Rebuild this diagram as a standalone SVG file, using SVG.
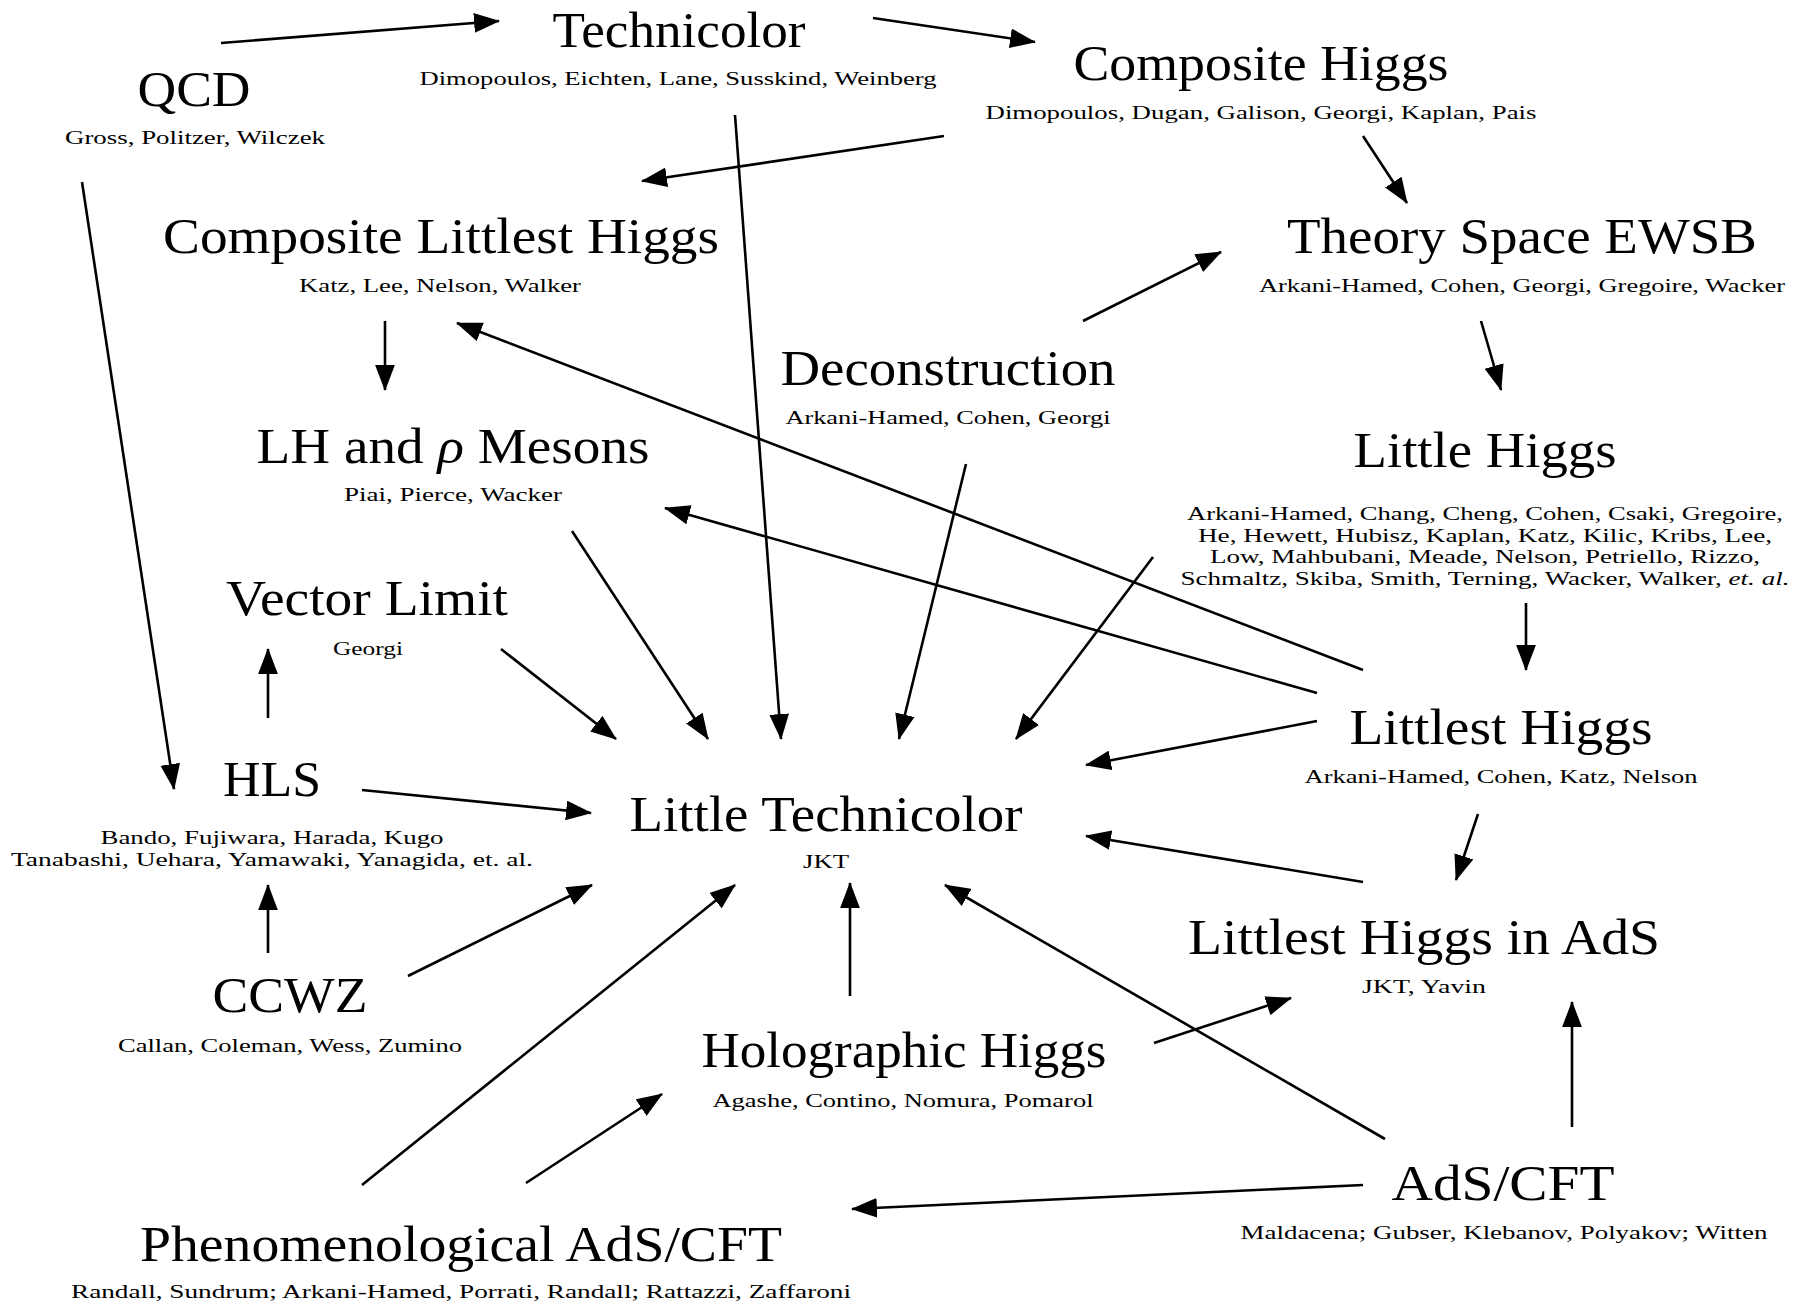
<svg xmlns="http://www.w3.org/2000/svg" width="1811" height="1306" viewBox="0 0 1811 1306">
<style>
text{font-family:"Liberation Serif","Times New Roman",serif;fill:#000;text-anchor:middle}
.t{font-size:51px}
.s{font-size:19px}
.c line{stroke:#000;stroke-width:2.6;marker-end:url(#ah)}
</style>
<defs>
<marker id="ah" markerUnits="userSpaceOnUse" markerWidth="26" markerHeight="20" refX="24" refY="9.5" orient="auto" viewBox="0 0 25 19">
<path d="M0,0 L25,9.5 L0,19 z" fill="#000"/>
</marker>
</defs>
<rect width="1811" height="1306" fill="#fff"/>
<g id="technicolor"><text class="t" x="679" y="47" textLength="253" lengthAdjust="spacingAndGlyphs">Technicolor</text><text class="s" x="678" y="85" textLength="517" lengthAdjust="spacingAndGlyphs">Dimopoulos, Eichten, Lane, Susskind, Weinberg</text></g>
<g id="qcd"><text class="t" x="194" y="106" textLength="113" lengthAdjust="spacingAndGlyphs">QCD</text><text class="s" x="195" y="144" textLength="260" lengthAdjust="spacingAndGlyphs">Gross, Politzer, Wilczek</text></g>
<g id="composite-higgs"><text class="t" x="1261" y="80" textLength="375" lengthAdjust="spacingAndGlyphs">Composite Higgs</text><text class="s" x="1261" y="119" textLength="551" lengthAdjust="spacingAndGlyphs">Dimopoulos, Dugan, Galison, Georgi, Kaplan, Pais</text></g>
<g id="composite-littlest-higgs"><text class="t" x="441" y="253" textLength="556" lengthAdjust="spacingAndGlyphs">Composite Littlest Higgs</text><text class="s" x="440" y="292" textLength="282" lengthAdjust="spacingAndGlyphs">Katz, Lee, Nelson, Walker</text></g>
<g id="theory-space-ewsb"><text class="t" x="1522" y="253" textLength="470" lengthAdjust="spacingAndGlyphs">Theory Space EWSB</text><text class="s" x="1522" y="292" textLength="526" lengthAdjust="spacingAndGlyphs">Arkani-Hamed, Cohen, Georgi, Gregoire, Wacker</text></g>
<g id="deconstruction"><text class="t" x="948" y="385" textLength="335" lengthAdjust="spacingAndGlyphs">Deconstruction</text><text class="s" x="948" y="424" textLength="325" lengthAdjust="spacingAndGlyphs">Arkani-Hamed, Cohen, Georgi</text></g>
<g id="lh-rho-mesons"><text class="t" x="453" y="463" textLength="393" lengthAdjust="spacingAndGlyphs">LH and <tspan font-style="italic">ρ</tspan> Mesons</text><text class="s" x="453" y="501" textLength="218" lengthAdjust="spacingAndGlyphs">Piai, Pierce, Wacker</text></g>
<g id="little-higgs"><text class="t" x="1485" y="467" textLength="263" lengthAdjust="spacingAndGlyphs">Little Higgs</text>
<text class="s" x="1485" y="520" textLength="596" lengthAdjust="spacingAndGlyphs">Arkani-Hamed, Chang, Cheng, Cohen, Csaki, Gregoire,</text>
<text class="s" x="1485" y="542" textLength="574" lengthAdjust="spacingAndGlyphs">He, Hewett, Hubisz, Kaplan, Katz, Kilic, Kribs, Lee,</text>
<text class="s" x="1485" y="563" textLength="550" lengthAdjust="spacingAndGlyphs">Low, Mahbubani, Meade, Nelson, Petriello, Rizzo,</text>
<text class="s" x="1485" y="585" textLength="609" lengthAdjust="spacingAndGlyphs">Schmaltz, Skiba, Smith, Terning, Wacker, Walker, <tspan font-style="italic">et. al.</tspan></text></g>
<g id="vector-limit"><text class="t" x="367" y="615" textLength="282" lengthAdjust="spacingAndGlyphs">Vector Limit</text><text class="s" x="368" y="655" textLength="70" lengthAdjust="spacingAndGlyphs">Georgi</text></g>
<g id="littlest-higgs"><text class="t" x="1501" y="744" textLength="303" lengthAdjust="spacingAndGlyphs">Littlest Higgs</text><text class="s" x="1501" y="783" textLength="393" lengthAdjust="spacingAndGlyphs">Arkani-Hamed, Cohen, Katz, Nelson</text></g>
<g id="hls"><text class="t" x="272" y="796" textLength="98" lengthAdjust="spacingAndGlyphs">HLS</text><text class="s" x="272" y="844" textLength="343" lengthAdjust="spacingAndGlyphs">Bando, Fujiwara, Harada, Kugo</text><text class="s" x="272" y="866" textLength="522" lengthAdjust="spacingAndGlyphs">Tanabashi, Uehara, Yamawaki, Yanagida, et. al.</text></g>
<g id="little-technicolor"><text class="t" x="826" y="831" textLength="393" lengthAdjust="spacingAndGlyphs">Little Technicolor</text><text class="s" x="826" y="868" textLength="46" lengthAdjust="spacingAndGlyphs">JKT</text></g>
<g id="littlest-higgs-ads"><text class="t" x="1424" y="954" textLength="472" lengthAdjust="spacingAndGlyphs">Littlest Higgs in AdS</text><text class="s" x="1424" y="993" textLength="124" lengthAdjust="spacingAndGlyphs">JKT, Yavin</text></g>
<g id="ccwz"><text class="t" x="290" y="1012" textLength="155" lengthAdjust="spacingAndGlyphs">CCWZ</text><text class="s" x="290" y="1052" textLength="344" lengthAdjust="spacingAndGlyphs">Callan, Coleman, Wess, Zumino</text></g>
<g id="holographic-higgs"><text class="t" x="904" y="1067" textLength="405" lengthAdjust="spacingAndGlyphs">Holographic Higgs</text><text class="s" x="903" y="1107" textLength="381" lengthAdjust="spacingAndGlyphs">Agashe, Contino, Nomura, Pomarol</text></g>
<g id="ads-cft"><text class="t" x="1503" y="1200" textLength="223" lengthAdjust="spacingAndGlyphs">AdS/CFT</text><text class="s" x="1504" y="1239" textLength="527" lengthAdjust="spacingAndGlyphs">Maldacena; Gubser, Klebanov, Polyakov; Witten</text></g>
<g id="phenomenological-ads-cft"><text class="t" x="461" y="1261" textLength="642" lengthAdjust="spacingAndGlyphs">Phenomenological AdS/CFT</text><text class="s" x="461" y="1298" textLength="780" lengthAdjust="spacingAndGlyphs">Randall, Sundrum; Arkani-Hamed, Porrati, Randall; Rattazzi, Zaffaroni</text></g>
<g id="connectors" class="c">
<line x1="221" y1="43" x2="499" y2="21"/>
<line x1="873" y1="18" x2="1035" y2="42"/>
<line x1="944" y1="136" x2="642" y2="181"/>
<line x1="1363" y1="136" x2="1407" y2="203"/>
<line x1="82" y1="182" x2="174" y2="789"/>
<line x1="735" y1="115" x2="781" y2="739"/>
<line x1="385" y1="321" x2="385" y2="390"/>
<line x1="1083" y1="321" x2="1221" y2="252"/>
<line x1="1481" y1="321" x2="1501" y2="390"/>
<line x1="1363" y1="670" x2="457" y2="323"/>
<line x1="1317" y1="693" x2="665" y2="508"/>
<line x1="1526" y1="603" x2="1526" y2="670"/>
<line x1="966" y1="464" x2="899" y2="739"/>
<line x1="1153" y1="557" x2="1016" y2="739"/>
<line x1="572" y1="531" x2="708" y2="739"/>
<line x1="501" y1="649" x2="616" y2="739"/>
<line x1="268" y1="718" x2="268" y2="649"/>
<line x1="1317" y1="721" x2="1086" y2="765"/>
<line x1="362" y1="790" x2="591" y2="813"/>
<line x1="1478" y1="814" x2="1456" y2="880"/>
<line x1="1363" y1="882" x2="1086" y2="836"/>
<line x1="268" y1="953" x2="268" y2="885"/>
<line x1="408" y1="976" x2="592" y2="885"/>
<line x1="362" y1="1185" x2="735" y2="885"/>
<line x1="850" y1="996" x2="850" y2="883"/>
<line x1="1385" y1="1139" x2="945" y2="885"/>
<line x1="1154" y1="1043" x2="1291" y2="998"/>
<line x1="1572" y1="1127" x2="1572" y2="1002"/>
<line x1="1363" y1="1185" x2="852" y2="1209"/>
<line x1="526" y1="1183" x2="662" y2="1094"/>
</g>
</svg>
